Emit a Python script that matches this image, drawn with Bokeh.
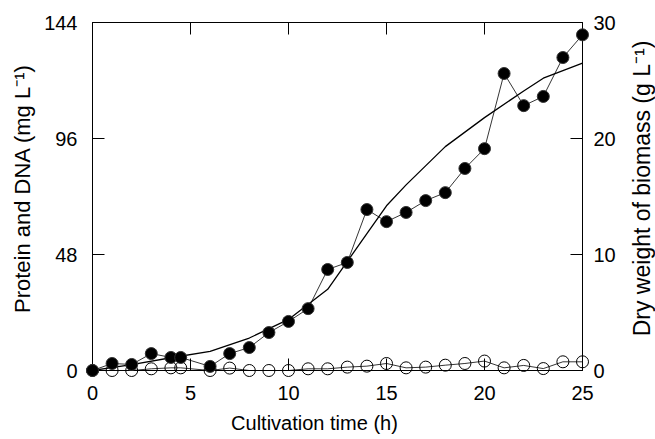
import math
from bokeh.plotting import figure
from bokeh.models import Range1d, LinearAxis, FixedTicker
from bokeh.core.properties import value
from bokeh.embed import file_html
from bokeh.resources import INLINE

# Protein (filled) and DNA (open), mg/L
time_h = [0, 1, 2, 3, 4, 4.5, 6, 7, 8, 9, 10, 11, 12, 13, 14, 15, 16, 17, 18, 19, 20, 21, 22, 23, 24, 25]
protein = [0, 2.9, 2.5, 7.0, 5.4, 5.4, 1.7, 7.0, 9.5, 15.7, 20.3, 25.6, 41.8, 44.7, 66.6, 61.6, 65.4,
           70.3, 73.6, 83.6, 91.8, 122.9, 109.6, 113.4, 129.5, 138.9]
dna = [0, 0, 0, 0.7, 1.1, 1.1, 0, 1.0, 0, 0, 0, 0.7, 0.7, 1.4, 1.8, 2.9, 1.1,
       1.4, 2.2, 2.9, 3.9, 1.1, 2.1, 0.8, 3.6, 3.6]

# Dry weight of biomass, g/L
dw_time = [0, 2, 4, 6, 8, 10, 12, 14, 15, 16, 18, 20, 22, 23, 25]
dry_weight = [0, 0.5, 1.1, 1.65, 2.8, 4.4, 7.0, 11.8, 14.2, 16.0, 19.3, 21.8, 24.1, 25.2, 26.5]

left_ticks = [0, 48, 96, 144]
right_ticks = [0, 10, 20, 30]
x_ticks = [0, 5, 10, 15, 20, 25]

x_label = "Cultivation time (h)"
left_label = "Protein and DNA (mg L⁻¹)"
right_label = "Dry weight of biomass (g L⁻¹)"

FONT = "Liberation Sans"
X_END, Y_END = 25, 144
FRAME_W, FRAME_H = 490, 348

p = figure(width=655, height=439, output_backend="svg", toolbar_location=None,
           x_range=Range1d(0, X_END), y_range=Range1d(0, Y_END),
           min_border_left=92, min_border_right=73, min_border_top=22, min_border_bottom=69)
p.extra_y_ranges = {"dw": Range1d(0, 30)}
p.xgrid.visible = False
p.ygrid.visible = False
p.outline_line_color = "black"
p.outline_line_width = 1
p.background_fill_color = "white"
p.border_fill_color = "white"

def style(ax, tick_size="20px", standoff=12):
    ax.major_tick_in = 12
    ax.major_tick_out = 0
    ax.minor_tick_in = 0
    ax.minor_tick_out = 0
    ax.axis_line_color = "black"
    ax.major_tick_line_color = "black"
    ax.major_label_text_font = FONT
    ax.major_label_text_font_size = tick_size
    ax.major_label_text_color = "black"
    ax.major_label_standoff = standoff

xa = p.xaxis[0]
xa.ticker = FixedTicker(ticks=x_ticks)
style(xa, standoff=15)

ya = p.yaxis[0]
ya.ticker = FixedTicker(ticks=left_ticks)
style(ya, standoff=15)

ra = LinearAxis(y_range_name="dw", ticker=FixedTicker(ticks=right_ticks))
style(ra, standoff=11)
p.add_layout(ra, "right")

ta = LinearAxis(ticker=FixedTicker(ticks=x_ticks))
style(ta, standoff=0)
ta.major_label_overrides = {t: "" for t in x_ticks}
p.add_layout(ta, "above")

def axis_title(x, y, txt, angle, size):
    p.text(x=[x], y=[y], text=[txt], angle=angle,
           text_align="center", text_baseline="middle", level="overlay",
           text_font=value(FONT), text_font_size=size, text_color="black")

# axis titles placed in pixels relative to the frame, as in the reference
axis_title(X_END * 0.453, -Y_END * 52 / FRAME_H, x_label, 0, "20px")
axis_title(-X_END * 70 / FRAME_W, Y_END * 0.523, left_label, math.pi / 2, "22px")
axis_title(X_END * (1 + 59 / FRAME_W), Y_END * 0.523, right_label, math.pi / 2, "23px")

# dry weight curve
p.line(dw_time, dry_weight, y_range_name="dw", line_color="black", line_width=1.3)

# DNA open circles
p.line(time_h, dna, line_color="black", line_width=0.8)
p.scatter(time_h, dna, size=12, marker="circle", fill_color=None, line_color="black",
          line_width=1, level="overlay")

# Protein filled circles
p.line(time_h, protein, line_color="black", line_width=0.8)
p.scatter(time_h, protein, size=12, marker="circle", fill_color="black", line_color="#333333",
          line_width=1, level="overlay")

open("out.html", "w").write(file_html(p, INLINE))
